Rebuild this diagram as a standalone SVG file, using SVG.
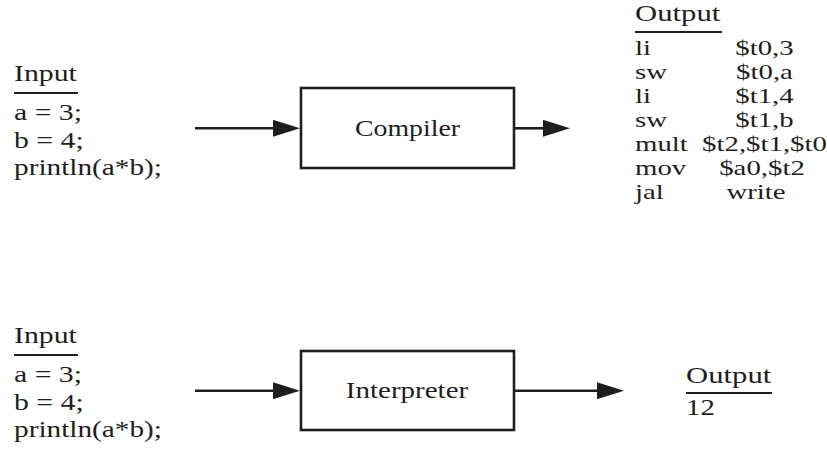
<svg xmlns="http://www.w3.org/2000/svg" width="827" height="456" viewBox="0 0 827 456">
  <style>
    .t { font-family: "Liberation Serif", "Times New Roman", serif; font-size: 24px; fill: #1e1e1e; }
    .s { font-size: 21.5px; }
    .m { text-anchor: middle; }
    .box { fill: #ffffff; stroke: #1e1e1e; stroke-width: 2.6; }
    .ul { stroke: #1e1e1e; stroke-width: 2.2; }
    .conn { stroke: #1e1e1e; stroke-width: 2.6; fill: none; marker-end: url(#arrow); }
  </style>
  <defs>
    <marker id="arrow" viewBox="0 0 27 17" refX="0" refY="8.5" markerWidth="27" markerHeight="17" markerUnits="userSpaceOnUse" orient="auto">
      <path d="M0,0 L27,8.5 L0,17 Z" fill="#1e1e1e"/>
    </marker>
  </defs>
  <rect width="827" height="456" fill="#ffffff"/>

  <g id="input1">
    <text class="t" transform="translate(14,81) scale(1.24,1)">Input</text>
    <line class="ul" x1="14" y1="93" x2="78" y2="93"/>
    <text class="t" transform="translate(14,120) scale(1.24,1)">a = 3;</text>
    <text class="t" transform="translate(14,148) scale(1.24,1)">b = 4;</text>
    <text class="t" transform="translate(14,175) scale(1.22,1)">println(a*b);</text>
  </g>

  <g id="compiler">
    <rect class="box" x="301" y="88" width="213" height="80"/>
    <text class="t m" transform="translate(407.5,136) scale(1.16,1)">Compiler</text>
  </g>

  <g id="output1">
    <text class="t" transform="translate(635,21) scale(1.28,1)">Output</text>
    <line class="ul" x1="635" y1="32" x2="722" y2="32"/>
    <text class="t s" transform="translate(635,55) scale(1.34,1)">li</text>
    <text class="t s m" transform="translate(764.5,55) scale(1.34,1)">$t0,3</text>
    <text class="t s" transform="translate(635,79) scale(1.34,1)">sw</text>
    <text class="t s m" transform="translate(764.5,79) scale(1.34,1)">$t0,a</text>
    <text class="t s" transform="translate(635,103) scale(1.34,1)">li</text>
    <text class="t s m" transform="translate(764.5,103) scale(1.34,1)">$t1,4</text>
    <text class="t s" transform="translate(635,127) scale(1.34,1)">sw</text>
    <text class="t s m" transform="translate(764.5,127) scale(1.34,1)">$t1,b</text>
    <text class="t s" transform="translate(635,151) scale(1.34,1)">mult</text>
    <text class="t s m" transform="translate(764.5,151) scale(1.34,1)">$t2,$t1,$t0</text>
    <text class="t s" transform="translate(635,175) scale(1.34,1)">mov</text>
    <text class="t s m" transform="translate(762,175) scale(1.34,1)">$a0,$t2</text>
    <text class="t s" transform="translate(635,199) scale(1.34,1)">jal</text>
    <text class="t s m" transform="translate(756,199) scale(1.34,1)">write</text>
  </g>

  <g id="input2">
    <text class="t" transform="translate(14,343) scale(1.24,1)">Input</text>
    <line class="ul" x1="14" y1="355" x2="78" y2="355"/>
    <text class="t" transform="translate(14,382) scale(1.24,1)">a = 3;</text>
    <text class="t" transform="translate(14,410) scale(1.24,1)">b = 4;</text>
    <text class="t" transform="translate(14,437) scale(1.22,1)">println(a*b);</text>
  </g>

  <g id="interpreter">
    <rect class="box" x="301" y="351" width="213" height="79"/>
    <text class="t m" transform="translate(407,398) scale(1.21,1)">Interpreter</text>
  </g>

  <g id="output2">
    <text class="t" transform="translate(686,383) scale(1.28,1)">Output</text>
    <line class="ul" x1="686" y1="393" x2="772" y2="393"/>
    <text class="t" transform="translate(686,415) scale(1.2,1)">12</text>
  </g>

  <g id="connectors">
    <line class="conn" x1="195" y1="128.3" x2="273" y2="128.3"/>
    <line class="conn" x1="514" y1="128.3" x2="543" y2="128.3"/>
    <line class="conn" x1="195" y1="390.7" x2="273" y2="390.7"/>
    <line class="conn" x1="514" y1="390.7" x2="597" y2="390.7"/>
  </g>
</svg>
